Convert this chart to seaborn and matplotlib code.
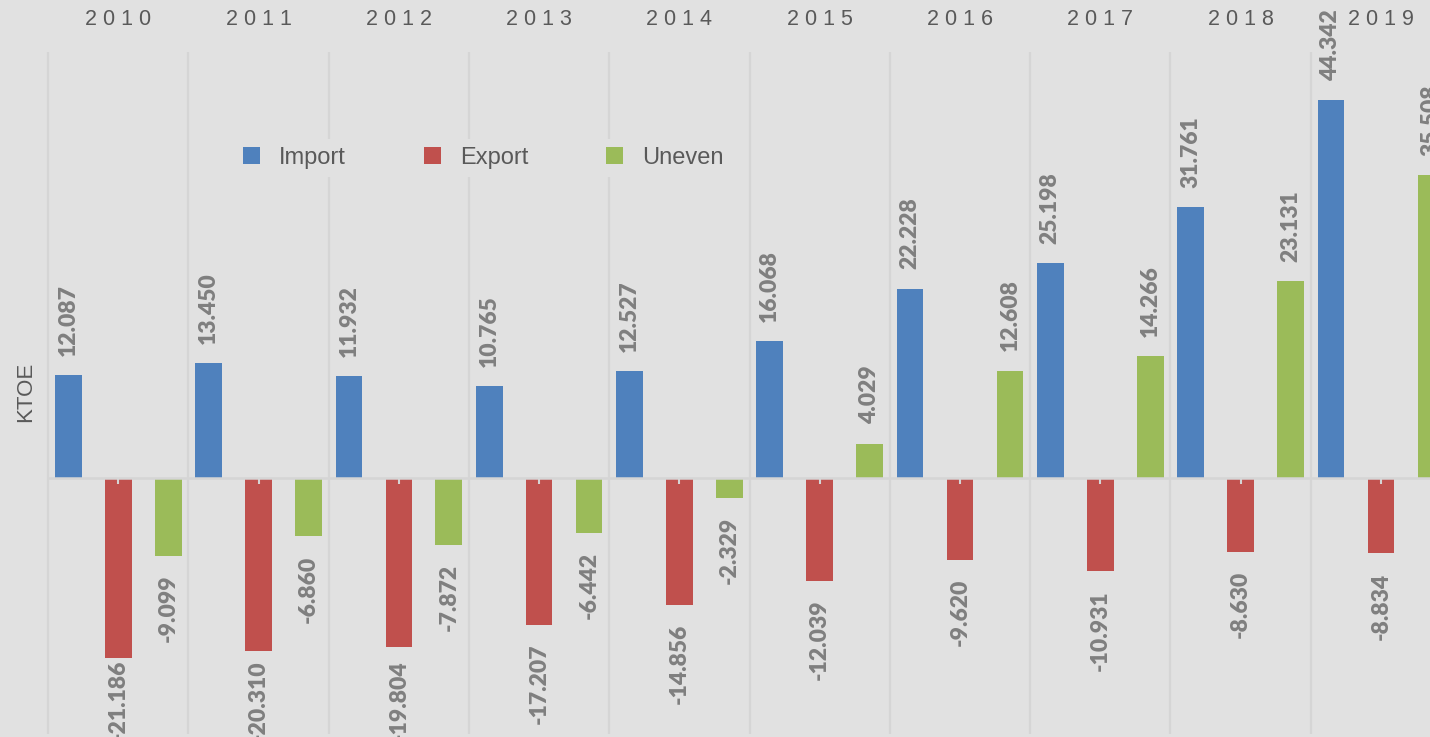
import pandas as pd
import numpy as np
import matplotlib.pyplot as plt
import seaborn as sns

# data (KTOE)
years = ['2010', '2011', '2012', '2013', '2014', '2015', '2016', '2017', '2018', '2019']
series = ['Import', 'Export', 'Uneven']
import_vals = [12.087, 13.450, 11.932, 10.765, 12.527, 16.068, 22.228, 25.198, 31.761, 44.342]
export_vals = [-21.186, -20.310, -19.804, -17.207, -14.856, -12.039, -9.620, -10.931, -8.630, -8.834]
uneven_vals = [-9.099, -6.860, -7.872, -6.442, -2.329, 4.029, 12.608, 14.266, 23.131, 35.508]
colors = ['#4f81bd', '#c0504d', '#9bbb59']

df = pd.DataFrame({
    'year': years * 3,
    'series': np.repeat(series, len(years)),
    'value': import_vals + export_vals + uneven_vals,
})

bg = '#e1e1e1'
grid_c = '#d5d5d5'

fig = plt.figure(figsize=(14.3, 7.37), dpi=100, facecolor=bg)
ax = fig.add_axes([0, 0, 1, 1])
ax.set_facecolor(bg)

sns.barplot(data=df, x='year', y='value', hue='series', order=years, hue_order=series,
            palette=colors, saturation=1, width=1.068, gap=0.466, linewidth=0,
            errorbar=None, ax=ax)

ax.set_xlim(-0.843, 9.35)
ax.set_ylim(-30.4, 56.1)

# separators between year groups
ax.vlines(np.arange(len(years) + 1) - 0.5, -30, 50, color=grid_c, lw=1.6, zorder=0.5)

# zero line with small ticks
for s in ['left', 'right', 'top']:
    ax.spines[s].set_visible(False)
ax.spines['bottom'].set_position(('data', 0))
ax.spines['bottom'].set_color(grid_c)
ax.spines['bottom'].set_linewidth(1.8)
ax.spines['bottom'].set_bounds(-0.5, 9.35)
ax.tick_params(axis='x', length=4, width=1.5, color=grid_c, labelbottom=False)
ax.set_yticks([])
ax.set_xlabel('')
ax.set_ylabel('')

# value labels (negative ones are kept inside the plot area, like Excel does)
gap = 2.25
for cont, vals in zip(ax.containers, [import_vals, export_vals, uneven_vals]):
    for rect, v in zip(cont, vals):
        xc = rect.get_x() + rect.get_width() / 2
        if v >= 0:
            ly, va = v + gap, 'bottom'
        else:
            ly, va = max(v - gap, -21.35), 'top'
        ax.text(xc, ly, f'{v:.3f}', rotation=90, ha='center', va=va,
                color='#7f7f7f', fontsize=16.5, fontweight='heavy', family='Lato')

# year labels on top
for i, y in enumerate(years):
    ax.text(i, 0.974, ' '.join(y), transform=ax.get_xaxis_transform(), ha='center', va='center',
            fontsize=15.5, color='#595959', family='Liberation Sans')

fig.text(26 / 1430, 1 - 392 / 737, 'KTOE', rotation=90, ha='center', va='center',
         fontsize=16, color='#595959', family='Liberation Sans')

handles, labels = ax.get_legend_handles_labels()
ax.legend(handles, labels, ncol=3, loc='center left', bbox_to_anchor=(235 / 1430, 1 - 158 / 737),
          bbox_transform=fig.transFigure, borderaxespad=0, borderpad=0.35,
          frameon=True, facecolor=bg, edgecolor='none', framealpha=1, fancybox=False,
          handlelength=0.72, handleheight=0.72, handletextpad=0.8, columnspacing=3.3,
          prop={'family': 'Liberation Sans', 'size': 17}, labelcolor='#595959')

fig.savefig('out.png', dpi=100, facecolor=bg)
